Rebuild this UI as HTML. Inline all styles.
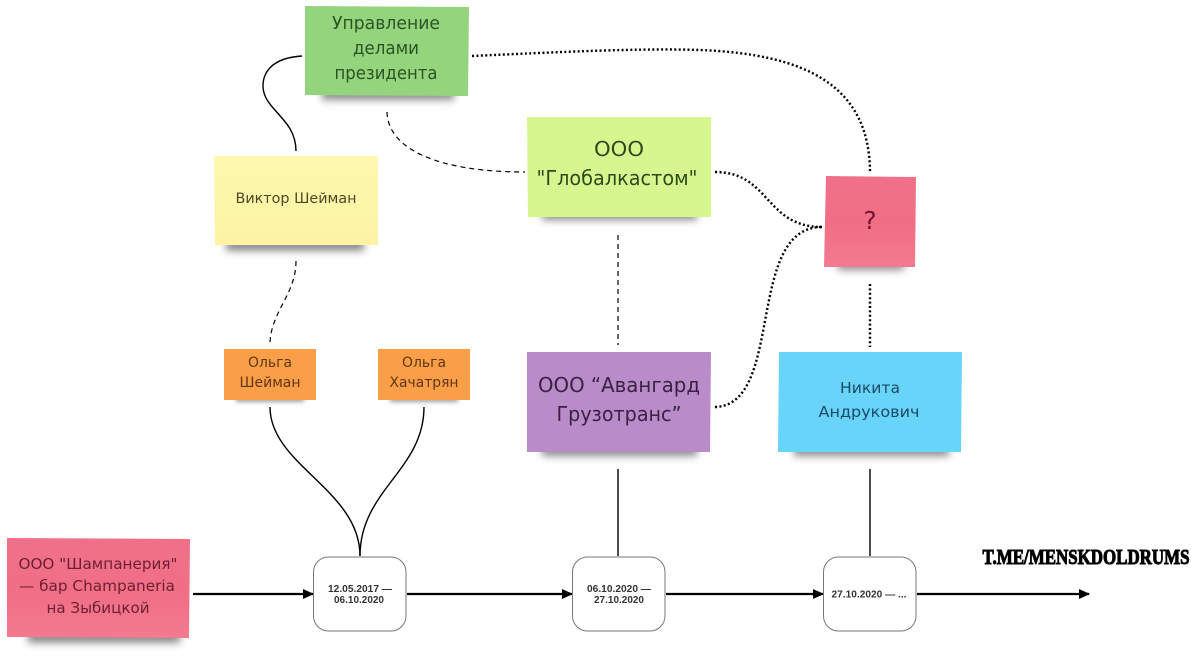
<!DOCTYPE html>
<html><head><meta charset="utf-8"><style>
html,body{margin:0;padding:0;background:#fff;width:1204px;height:671px;overflow:hidden}
svg{display:block}
text{font-family:"DejaVu Sans","Liberation Sans",sans-serif;text-anchor:middle}
.w{fill:none;stroke:#000}
</style></head><body>
<svg width="1204" height="671" viewBox="0 0 1204 671" xmlns="http://www.w3.org/2000/svg">
<defs>
<filter id="b" x="-20%" y="-150%" width="140%" height="400%"><feGaussianBlur stdDeviation="4"/></filter>
<filter id="s" x="-20%" y="-150%" width="140%" height="400%"><feGaussianBlur stdDeviation="2"/></filter>
<linearGradient id="rg" x1="0" y1="0" x2="0" y2="1"><stop offset="0" stop-color="#f0708a"/><stop offset=".55" stop-color="#f06f85"/><stop offset="1" stop-color="#f37a90"/></linearGradient>
<linearGradient id="yg" x1="0" y1="0" x2="0" y2="1"><stop offset="0" stop-color="#fdf8ae"/><stop offset="1" stop-color="#fcf4a4"/></linearGradient>
<marker id="a" markerUnits="userSpaceOnUse" markerWidth="11" markerHeight="10" refX="10" refY="5" orient="auto"><path d="M0 0L11 5L0 10z" fill="#000"/></marker>
</defs>

<!-- shadows -->
<g fill="#444" opacity=".62" filter="url(#b)">
<rect x="322" y="88" width="132" height="12"/>
<rect x="226" y="238" width="138" height="13"/>
<rect x="542" y="210" width="155" height="10"/>
<rect x="838" y="260" width="66" height="10"/>
<rect x="542" y="445" width="155" height="11"/>
<rect x="794" y="445" width="155" height="11"/>
<rect x="28" y="630" width="152" height="13"/>
</g>
<g fill="#555" opacity=".55" filter="url(#s)">
<rect x="236" y="396" width="68" height="6"/>
<rect x="390" y="396" width="68" height="6"/>
</g>

<!-- notes -->
<polygon points="305,6 469,7 468,96 305,95" fill="#94d47d"/>
<polygon points="214,156 378,156 378,245 215,245" fill="url(#yg)"/>
<polygon points="527,117 711,117 711,217 528,217" fill="#d6f78f"/>
<polygon points="826,176 916,177 915,267 824,267" fill="url(#rg)"/>
<polygon points="224,349 316,349 316,400 224,400" fill="#fb9e48"/>
<polygon points="378,349 470,349 470,400 378,400" fill="#fb9e48"/>
<polygon points="527,352 711,352 710,452 527,452" fill="#b98bc8"/>
<polygon points="779,352 962,352 961,452 778,452" fill="#68d4fa"/>
<polygon points="7,538 190,539 189,638 7,637" fill="url(#rg)"/>

<!-- connectors -->
<path class="w" stroke-width="1.4" d="M302 56C270 58 263 74 263 86C263 110 296 118 296 151"/>
<path class="w" stroke-width="1.2" stroke-dasharray="5 4" d="M387 112C388 150 440 172 525 172"/>
<path class="w" stroke-width="1.2" stroke-dasharray="5 4" d="M296 261C296 295 270 312 270 345"/>
<path class="w" stroke-width="1.2" stroke-dasharray="5 4" d="M618 235V345"/>
<path class="w" stroke-width="2.4" stroke-dasharray="2 2.4" d="M472 56C560 52 640 48 700 50C805 54 870 85 870 173"/>
<path class="w" stroke-width="2.4" stroke-dasharray="2 2.4" d="M715 172C770 172 765 227 822 227"/>
<path class="w" stroke-width="2.4" stroke-dasharray="2 2.4" d="M715 407C785 405 745 227 822 227"/>
<path class="w" stroke-width="2.4" stroke-dasharray="2 2.4" d="M870 284V347"/>
<path class="w" stroke-width="1.4" d="M270 407C270 465 360 490 360 556"/>
<path class="w" stroke-width="1.4" d="M424 407C424 470 360 490 360 556"/>
<path class="w" stroke-width="1.4" d="M618 469V556"/>
<path class="w" stroke-width="1.4" d="M870 469V556"/>
<path class="w" stroke-width="2.2" marker-end="url(#a)" d="M193 594H313"/>
<path class="w" stroke-width="2.2" marker-end="url(#a)" d="M407 594H572"/>
<path class="w" stroke-width="2.2" marker-end="url(#a)" d="M666 594H823"/>
<path class="w" stroke-width="2.2" marker-end="url(#a)" d="M917 594H1089"/>

<!-- date boxes -->
<g fill="#fff" stroke="#777" stroke-width="1">
<rect x="313.5" y="557" width="92.5" height="74" rx="15"/>
<rect x="572.5" y="557" width="92.5" height="74" rx="15"/>
<rect x="823.5" y="557" width="92.5" height="74" rx="15"/>
</g>

<!-- labels -->
<g fill="#2b5424" font-size="18">
<text x="386" y="29" textLength="108" lengthAdjust="spacingAndGlyphs">Управление</text>
<text x="386" y="54" textLength="66" lengthAdjust="spacingAndGlyphs">делами</text>
<text x="386" y="79" textLength="103" lengthAdjust="spacingAndGlyphs">президента</text>
</g>
<text x="296" y="203" font-size="14.5" fill="#4c4826" textLength="121" lengthAdjust="spacingAndGlyphs">Виктор Шейман</text>
<g fill="#30491a" font-size="20">
<text x="619" y="156" textLength="50" lengthAdjust="spacingAndGlyphs">ООО</text>
<text x="617" y="185" textLength="161" lengthAdjust="spacingAndGlyphs">"Глобалкастом"</text>
</g>
<text x="870" y="229" font-size="25" fill="#70182e">?</text>
<g fill="#5e3610" font-size="14.5">
<text x="270" y="367" textLength="44" lengthAdjust="spacingAndGlyphs">Ольга</text>
<text x="270" y="387" textLength="61" lengthAdjust="spacingAndGlyphs">Шейман</text>
<text x="424" y="367" textLength="44" lengthAdjust="spacingAndGlyphs">Ольга</text>
<text x="424" y="387" textLength="69" lengthAdjust="spacingAndGlyphs">Хачатрян</text>
</g>
<g fill="#3a2144" font-size="20">
<text x="619" y="392" textLength="162" lengthAdjust="spacingAndGlyphs">ООО “Авангард</text>
<text x="619" y="421" textLength="125" lengthAdjust="spacingAndGlyphs">Грузотранс”</text>
</g>
<g fill="#1a4a64" font-size="15.5">
<text x="870" y="393" textLength="60" lengthAdjust="spacingAndGlyphs">Никита</text>
<text x="869" y="417" textLength="101" lengthAdjust="spacingAndGlyphs">Андрукович</text>
</g>
<g fill="#6e1e32" font-size="15.5">
<text x="98" y="569" textLength="159" lengthAdjust="spacingAndGlyphs">ООО "Шампанерия"</text>
<text x="97" y="591" textLength="156" lengthAdjust="spacingAndGlyphs">— бар Champaneria</text>
<text x="98" y="613" textLength="103" lengthAdjust="spacingAndGlyphs">на Зыбицкой</text>
</g>
<g fill="#333" font-size="10" font-weight="bold">
<text x="360" y="592" textLength="64" lengthAdjust="spacingAndGlyphs" style="font-family:'Liberation Sans',sans-serif">12.05.2017 —</text>
<text x="359" y="603" textLength="50" lengthAdjust="spacingAndGlyphs" style="font-family:'Liberation Sans',sans-serif">06.10.2020</text>
<text x="619" y="592" textLength="64" lengthAdjust="spacingAndGlyphs" style="font-family:'Liberation Sans',sans-serif">06.10.2020 —</text>
<text x="619" y="603" textLength="50" lengthAdjust="spacingAndGlyphs" style="font-family:'Liberation Sans',sans-serif">27.10.2020</text>
<text x="869" y="597.5" textLength="75" lengthAdjust="spacingAndGlyphs" style="font-family:'Liberation Sans',sans-serif">27.10.2020 — ...</text>
</g>
<text x="1086" y="564" font-size="21" font-weight="bold" fill="#000" stroke="#000" stroke-width="1" textLength="207" lengthAdjust="spacingAndGlyphs" style="font-family:'Liberation Serif',serif">T.ME/MENSKDOLDRUMS</text>
</svg>
</body></html>
